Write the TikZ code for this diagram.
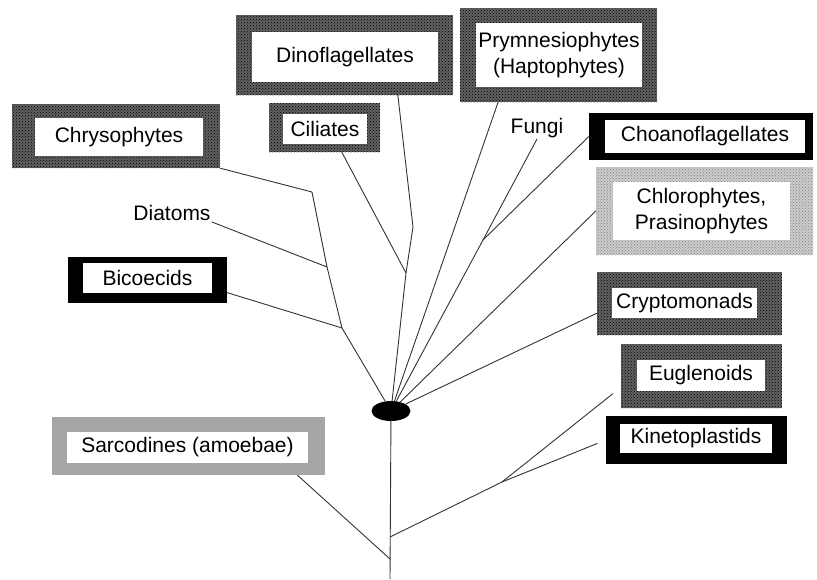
\documentclass[tikz,border=0pt]{standalone}
\usepackage{fontspec}
\setmainfont{Liberation Sans}
\usetikzlibrary{shapes.geometric,patterns}

\begin{document}
\begin{tikzpicture}[x=1pt, y=-1pt,
    dkfrm/.style={preaction={fill=black!62}, pattern=crosshatch dots, pattern color=black, inner sep=0pt},
    ltfrm/.style={preaction={fill=black!20}, pattern=crosshatch dots, pattern color=black!50, inner sep=0pt},
    bkfrm/.style={fill=black, inner sep=0pt},
    gyfrm/.style={fill=black!35, inner sep=0pt},
    inbox/.style={fill=white, inner sep=0pt, align=center, font=\fontsize{21}{26}\selectfont},
    br/.style={black!80, line width=0.9pt},
    lbl/.style={font=\fontsize{21}{26}\selectfont, inner sep=1pt}
]
\useasboundingbox (0,0) rectangle (817,579);

\node[dkfrm, minimum width=208pt, minimum height=64pt] (chryF) at (116,136) {};
\node[inbox, minimum width=168pt, minimum height=38pt] (chry) at (119,137) {Chrysophytes};
\node[dkfrm, minimum width=111pt, minimum height=49pt] (ciliF) at (324.5,127.5) {};
\node[inbox, minimum width=84pt, minimum height=30pt] (cili) at (325,129) {Ciliates};
\node[dkfrm, minimum width=217pt, minimum height=80pt] (dinoF) at (344.5,55) {};
\node[inbox, minimum width=186pt, minimum height=50pt] (dino) at (345,57) {Dinoflagellates};
\node[dkfrm, minimum width=197pt, minimum height=94pt] (prymF) at (558.5,55) {};
\node[inbox, minimum width=166pt, minimum height=64pt] (prym) at (559,55) {Prymnesiophytes\\(Haptophytes)};
\node[bkfrm, minimum width=224pt, minimum height=47pt] (choaF) at (701,136.5) {};
\node[inbox, minimum width=200pt, minimum height=33pt] (choa) at (705,136.5) {Choanoflagellates};
\node[ltfrm, minimum width=217pt, minimum height=88pt] (chloF) at (704.5,211) {};
\node[inbox, minimum width=177pt, minimum height=58pt] (chlo) at (701.5,211) {Chlorophytes,\\Prasinophytes};
\node[dkfrm, minimum width=185pt, minimum height=63pt] (crypF) at (689.5,303.5) {};
\node[inbox, minimum width=145pt, minimum height=30pt] (cryp) at (684.5,303) {Cryptomonads};
\node[dkfrm, minimum width=161pt, minimum height=64pt] (euglF) at (701.5,376) {};
\node[inbox, minimum width=128pt, minimum height=31pt] (eugl) at (701,375.5) {Euglenoids};
\node[bkfrm, minimum width=181pt, minimum height=48pt] (kineF) at (696.5,440) {};
\node[inbox, minimum width=152pt, minimum height=29pt] (kine) at (696,438.5) {Kinetoplastids};
\node[bkfrm, minimum width=159pt, minimum height=46pt] (bicoF) at (147.5,280) {};
\node[inbox, minimum width=129pt, minimum height=30pt] (bico) at (147.5,278) {Bicoecids};
\node[gyfrm, minimum width=273pt, minimum height=58pt] (sarcF) at (188.5,446) {};
\node[inbox, minimum width=241pt, minimum height=31pt] (sarc) at (187.5,447.5) {Sarcodines (amoebae)};

\node[lbl] (diat) at (172,213) {Diatoms};
\node[lbl] (fungi) at (537,128) {Fungi};
\node[ellipse, fill=black, minimum width=39pt, minimum height=20pt, inner sep=0pt] (hub) at (391,411) {};

\coordinate (kA) at (312,192);
\coordinate (kB) at (327,267);
\coordinate (kC) at (342,328);
\coordinate (kD) at (406,273);
\coordinate (kE) at (413,227);
\coordinate (kF) at (483,240);
\coordinate (kG) at (502,482);
\coordinate (kH) at (390,537);
\coordinate (kI) at (390,559);
\coordinate (kBot) at (390,579);

\draw[br] (chryF.south east) -- (kA) -- (kB) -- (kC) -- (hub);
\draw[br] (diat.south east) -- (kB);
\draw[br] (bicoF.-9) -- (kC);
\draw[br] (ciliF.-55) -- (kD);
\draw[br] (dinoF.-37) -- (kE) -- (kD) -- (hub);
\draw[br] (prymF.218) -- (hub);
\draw[br] (fungi.south) -- (kF) -- (hub);
\draw[br] (choaF.west) -- (kF);
\draw[br] (chloF.west) -- (hub);
\draw[br] (crypF.186) -- (hub);
\draw[br] (hub) -- (kBot);
\draw[br] (sarcF.-15) -- (kI);
\draw[br, shorten >=9pt] (kH) -- (kG) -- (kineF.west);
\draw[br, shorten >=10pt] (kG) -- (euglF.188);
\end{tikzpicture}
\end{document}
